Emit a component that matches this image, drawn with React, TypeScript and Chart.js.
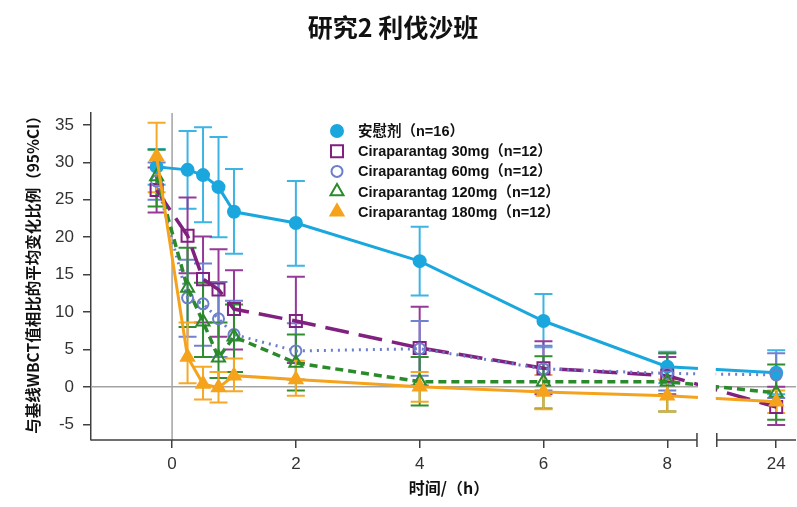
import React, { useEffect, useRef } from "react";
import { Chart, registerables } from "chart.js";
import { drawPoint } from "chart.js/helpers";

Chart.register(...registerables);

const TITLE = "研究2 利伐沙班";
const Y_TITLE = "与基线WBCT值相比的平均变化比例（95%CI）";
const X_TITLE = "时间/（h）";

const times = [-0.25, 0.25, 0.5, 0.75, 1, 2, 4, 6, 8, 24];
const xTickValues = [0, 2, 4, 6, 8, 24];
const yTickValues = [-5, 0, 5, 10, 15, 20, 25, 30, 35];

const seriesNames = [
  "安慰剂（n=16）",
  "Ciraparantag 30mg（n=12）",
  "Ciraparantag 60mg（n=12）",
  "Ciraparantag 120mg（n=12）",
  "Ciraparantag 180mg（n=12）",
];

const placeboMean = [29.4, 29.0, 28.3, 26.7, 23.4, 21.9, 16.8, 8.8, 2.7, 1.9];
const placeboLow = [27.0, 23.8, 22.0, 20.0, 17.8, 16.2, 12.2, 5.3, 0.5, -1.0];
const placeboHigh = [31.8, 34.2, 34.7, 33.4, 29.1, 27.5, 21.4, 12.4, 4.7, 4.9];

const mg30Mean = [26.3, 20.2, 14.4, 13.0, 10.4, 8.8, 5.2, 2.5, 1.5, -2.7];
const mg30Low = [23.3, 15.2, 8.6, 6.7, 5.0, 3.2, 0.2, -1.0, -1.0, -5.1];
const mg30High = [29.3, 25.3, 20.1, 18.4, 15.6, 14.7, 10.7, 6.1, 4.0, 0.0];

const mg60Mean = [27.5, 11.9, 11.1, 9.1, 7.0, 4.8, 5.1, 2.4, 1.8, 1.6];
const mg60Low = [25.0, 6.7, 5.5, 4.0, 2.0, 1.0, 1.5, -0.5, -0.5, -1.5];
const mg60High = [30.0, 17.0, 16.5, 14.0, 11.5, 8.5, 8.8, 5.5, 4.5, 4.5];

const mg120Mean = [28.1, 13.2, 8.7, 3.9, 6.7, 3.2, 0.7, 0.7, 0.7, -0.8];
const mg120Low = [24.1, 8.0, 4.0, 1.2, 2.0, -0.5, -2.5, -2.9, -3.3, -4.4];
const mg120High = [31.7, 18.6, 13.9, 8.6, 11.0, 7.0, 4.0, 4.1, 4.5, 3.0];

const mg180Mean = [30.8, 4.0, 0.4, -0.1, 1.5, 1.0, 0.0, -0.7, -1.2, -2.0];
const mg180Low = [26.0, 0.5, -1.7, -2.1, -0.6, -1.2, -2.0, -3.0, -3.3, -3.5];
const mg180High = [35.3, 8.6, 2.7, 2.0, 3.8, 3.5, 2.0, 1.6, 1.0, -0.5];

// broken axis: 24 h is drawn just after the break
const BREAK_FROM = 8.48;
const BREAK_TO = 8.8;
const POS_24 = 9.76;
const axisX = (t: number) => (t === 24 ? POS_24 : t);

const series = [
  { mean: placeboMean, low: placeboLow, high: placeboHigh, color: "#1aa7de", errColor: "#3db4e4", style: "circle", radius: 6, fill: true, dash: [] as number[], width: 3 },
  { mean: mg30Mean, low: mg30Low, high: mg30High, color: "#80207f", errColor: "#963a9a", style: "rect", radius: 8.5, fill: false, dash: [24, 10], width: 3.5 },
  { mean: mg60Mean, low: mg60Low, high: mg60High, color: "#6b7fcc", errColor: "#6f82cf", style: "circle", radius: 5.5, fill: false, dash: [2, 5], width: 3 },
  { mean: mg120Mean, low: mg120Low, high: mg120High, color: "#2b8a2b", errColor: "#2f8f2f", style: "triangle", radius: 7.5, fill: false, dash: [8, 5], width: 3.5 },
  { mean: mg180Mean, low: mg180Low, high: mg180High, color: "#f5a31d", errColor: "#f6a827", style: "triangle", radius: 7.5, fill: true, dash: [], width: 3 },
];

const customPlugin = {
  id: "customDraw",
  beforeDatasetsDraw(chart: any) {
    const { ctx, chartArea, scales } = chart;
    const x = scales.x;
    const y = scales.y;
    ctx.save();
    ctx.strokeStyle = "#a3a3a3";
    ctx.lineWidth = 1.5;
    const x0 = x.getPixelForValue(0);
    const y0 = y.getPixelForValue(0);
    ctx.beginPath();
    ctx.moveTo(x0, chartArea.top);
    ctx.lineTo(x0, chartArea.bottom);
    ctx.moveTo(chartArea.left, y0);
    ctx.lineTo(chartArea.right, y0);
    ctx.stroke();
    series.forEach((s) => {
      ctx.strokeStyle = s.errColor;
      ctx.lineWidth = 2;
      times.forEach((t, j) => {
        const px = x.getPixelForValue(axisX(t));
        const lo = y.getPixelForValue(s.low[j]);
        const hi = y.getPixelForValue(s.high[j]);
        ctx.beginPath();
        ctx.moveTo(px, lo);
        ctx.lineTo(px, hi);
        ctx.moveTo(px - 9, lo);
        ctx.lineTo(px + 9, lo);
        ctx.moveTo(px - 9, hi);
        ctx.lineTo(px + 9, hi);
        ctx.stroke();
      });
    });
    ctx.restore();
  },
  afterDatasetsDraw(chart: any) {
    const { ctx, chartArea, scales } = chart;
    const x = scales.x;
    const bx1 = x.getPixelForValue(BREAK_FROM);
    const bx2 = x.getPixelForValue(BREAK_TO);
    ctx.save();
    // break gap
    ctx.fillStyle = "#ffffff";
    ctx.fillRect(bx1 + 1, chartArea.top, bx2 - bx1 - 2, chartArea.bottom - chartArea.top - 1);
    // x axis line with break
    ctx.strokeStyle = "#404040";
    ctx.lineWidth = 1.5;
    const yb = chartArea.bottom;
    ctx.beginPath();
    ctx.moveTo(chartArea.left, yb);
    ctx.lineTo(bx1, yb);
    ctx.moveTo(bx2, yb);
    ctx.lineTo(chartArea.right, yb);
    ctx.moveTo(bx1, yb - 7);
    ctx.lineTo(bx1, yb + 7);
    ctx.moveTo(bx2, yb - 7);
    ctx.lineTo(bx2, yb + 7);
    ctx.stroke();

    // legend
    const lx = 337;
    const ly0 = 131;
    const lstep = 20.2;
    series.forEach((s, i) => {
      const ly = ly0 + i * lstep;
      ctx.setLineDash([]);
      ctx.fillStyle = s.fill ? s.color : "rgba(0,0,0,0)";
      ctx.strokeStyle = s.color;
      ctx.lineWidth = 2;
      drawPoint(ctx, { pointStyle: s.style, radius: s.radius, rotation: 0, borderWidth: 2 } as any, lx, ly);
      ctx.fillStyle = "#111111";
      ctx.font = "bold 14.5px 'Liberation Sans', 'Noto Sans CJK SC', sans-serif";
      ctx.textAlign = "left";
      ctx.textBaseline = "middle";
      ctx.fillText(seriesNames[i], 358, ly + 1);
    });

    // titles
    ctx.fillStyle = "#111111";
    ctx.textAlign = "center";
    ctx.textBaseline = "middle";
    ctx.font = "bold 25px 'Noto Sans CJK SC', sans-serif";
    ctx.fillText(TITLE, 393, 27);
    ctx.font = "bold 16px 'Noto Sans CJK SC', sans-serif";
    ctx.fillText(X_TITLE, 449, 488);
    ctx.save();
    ctx.translate(33, 271);
    ctx.rotate(-Math.PI / 2);
    ctx.font = "bold 15.5px 'Noto Sans CJK SC', sans-serif";
    ctx.fillText(Y_TITLE, 0, 0);
    ctx.restore();
    ctx.restore();
  },
};

export default function App() {
  const canvasRef = useRef<HTMLCanvasElement | null>(null);
  useEffect(() => {
    if (!canvasRef.current) return;
    const datasets = series.map((s, i) => ({
      label: seriesNames[i],
      data: times.map((t, j) => ({ x: axisX(t), y: s.mean[j] })),
      borderColor: s.color,
      backgroundColor: s.fill ? s.color : "rgba(255,255,255,0)",
      borderWidth: s.width,
      borderDash: s.dash,
      pointStyle: s.style as any,
      pointRadius: s.radius,
      pointBorderWidth: 2,
      pointBorderColor: s.color,
      pointBackgroundColor: s.fill ? s.color : "rgba(255,255,255,0)",
      tension: 0,
      order: 5 - i,
    }));
    const chart = new Chart(canvasRef.current, {
      type: "line",
      data: { datasets },
      options: {
        responsive: false,
        animation: false,
        layout: { autoPadding: false, padding: { top: 113, right: 1, left: 0, bottom: 0 } },
        plugins: { legend: { display: false }, tooltip: { enabled: false }, title: { display: false } },
        scales: {
          x: {
            type: "linear",
            min: -1.31,
            max: 10.08,
            afterFit: (s: any) => { s.height = 67; s.paddingLeft = 0; s.paddingRight = 0; },
            afterBuildTicks: (s: any) => { s.ticks = xTickValues.map((v) => ({ value: axisX(v) })); },
            ticks: {
              autoSkip: false,
              maxRotation: 0,
              padding: 6,
              color: "#333333",
              font: { size: 17, family: "'Liberation Sans', Arial, sans-serif" },
              callback: (v: any) => (Math.abs(v - POS_24) < 1e-6 ? "24" : String(v)),
            },
            grid: { drawOnChartArea: false, drawTicks: true, tickLength: 8, color: "#404040", lineWidth: 1.5 },
            border: { display: false },
          },
          y: {
            type: "linear",
            min: -7.1,
            max: 36.6,
            afterFit: (s: any) => { s.width = 91; s.paddingTop = 0; s.paddingBottom = 0; },
            afterBuildTicks: (s: any) => { s.ticks = yTickValues.map((v) => ({ value: v })); },
            ticks: {
              padding: 9,
              color: "#333333",
              font: { size: 17, family: "'Liberation Sans', Arial, sans-serif" },
            },
            grid: { drawOnChartArea: false, drawTicks: true, tickLength: 8, color: "#404040", lineWidth: 1.5 },
            border: { display: true, color: "#404040", width: 1.5 },
          },
        },
      },
      plugins: [customPlugin],
    } as any);
    return () => chart.destroy();
  }, []);
  return (
    <div style={{ position: "fixed", left: 0, top: 0, width: 797, height: 507, background: "#fff" }}>
      <canvas ref={canvasRef} width={797} height={507} />
    </div>
  );
}
